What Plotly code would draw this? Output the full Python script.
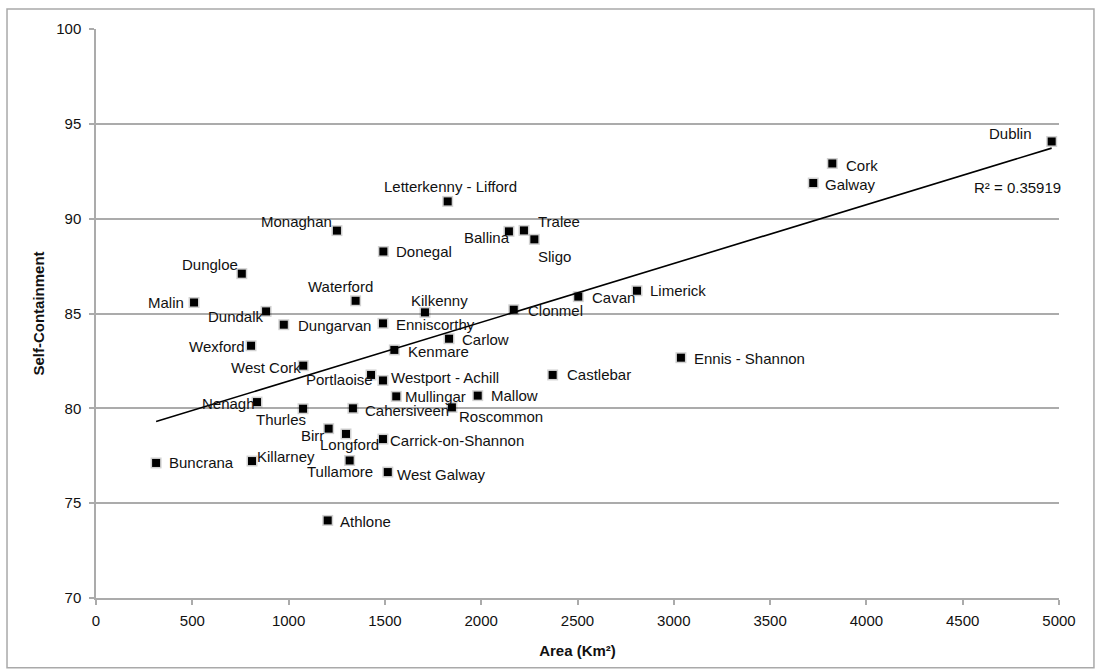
import numpy as np
import plotly.graph_objects as go

# Functional areas: land area (km²) against labour-market self-containment (%)
towns = [
    "Dublin", "Cork", "Galway", "Letterkenny - Lifford", "Tralee", "Ballina",
    "Sligo", "Monaghan", "Donegal", "Dungloe", "Waterford", "Malin", "Dundalk",
    "Kilkenny", "Clonmel", "Cavan", "Limerick", "Dungarvan", "Enniscorthy",
    "Wexford", "Kenmare", "Carlow", "West Cork", "Portlaoise", "Westport - Achill",
    "Castlebar", "Ennis - Shannon", "Mullingar", "Mallow", "Nenagh", "Thurles",
    "Cahersiveen", "Roscommon", "Birr", "Longford", "Carrick-on-Shannon",
    "Buncrana", "Killarney", "Tullamore", "West Galway", "Athlone",
]
area_km2 = [
    4962, 3823, 3724, 1826, 2222, 2144,
    2276, 1251, 1492, 757, 1348, 509, 883,
    1708, 2169, 2504, 2809, 975, 1490,
    805, 1549, 1833, 1076, 1428, 1490,
    2371, 3037, 1559, 1982, 836, 1075,
    1334, 1848, 1208, 1298, 1490,
    312, 810, 1317, 1515, 1203,
]
self_containment = [
    94.07, 92.91, 91.88, 90.91, 89.38, 89.33,
    88.91, 89.37, 88.27, 87.10, 85.67, 85.58, 85.11,
    85.06, 85.20, 85.89, 86.20, 84.41, 84.48,
    83.30, 83.08, 83.67, 82.25, 81.76, 81.47,
    81.76, 82.67, 80.63, 80.67, 80.33, 79.98,
    80.00, 80.05, 78.93, 78.65, 78.38,
    77.12, 77.22, 77.25, 76.64, 74.09,
]
r_squared_label = "R² = 0.35919"

x_ticks = [0, 500, 1000, 1500, 2000, 2500, 3000, 3500, 4000, 4500, 5000]
y_ticks = [70, 75, 80, 85, 90, 95, 100]

# Label offsets from each marker (pixels, right / down)
label_offset = {
    "Dublin": (-41, -8), "Cork": (30, 2), "Galway": (37, 1),
    "Letterkenny - Lifford": (3, -15), "Tralee": (35, -9), "Ballina": (-22, 6),
    "Sligo": (20, 17), "Monaghan": (-40, -9), "Donegal": (41, 0),
    "Dungloe": (-32, -9), "Waterford": (-15, -14), "Malin": (-28, 0),
    "Dundalk": (-30, 5), "Kilkenny": (15, -12), "Clonmel": (42, 1),
    "Cavan": (35, 1), "Limerick": (41, 0), "Dungarvan": (51, 1),
    "Enniscorthy": (53, 1), "Wexford": (-34, 1), "Kenmare": (44, 2),
    "Carlow": (36, 1), "West Cork": (-37, 2), "Portlaoise": (-32, 5),
    "Westport - Achill": (62, -3), "Castlebar": (46, 0), "Ennis - Shannon": (69, 1),
    "Mullingar": (39, 0), "Mallow": (37, 0), "Nenagh": (-29, 1),
    "Thurles": (-22, 11), "Cahersiveen": (54, 2), "Roscommon": (49, 9),
    "Birr": (-16, 7), "Longford": (4, 11), "Carrick-on-Shannon": (74, 1),
    "Buncrana": (45, 0), "Killarney": (34, -5), "Tullamore": (-10, 11),
    "West Galway": (54, 2), "Athlone": (38, 1),
}

FONT = "Liberation Sans, Arial, Helvetica, sans-serif"
GRID = "#ababab"

x = np.array(area_km2, dtype=float)
y = np.array(self_containment, dtype=float)
slope, intercept = np.polyfit(x, y, 1)
trend_x = np.array([x.min(), x.max()])
trend_y = slope * trend_x + intercept

fig = go.Figure()

# Linear trendline
fig.add_trace(go.Scatter(
    x=trend_x, y=trend_y, mode="lines",
    line=dict(color="black", width=1.6), hoverinfo="skip", showlegend=False,
))
# Soft halo under the markers
fig.add_trace(go.Scatter(
    x=x, y=y, mode="markers",
    marker=dict(symbol="square", size=11, color="rgba(0,0,0,0.18)", line=dict(width=0)),
    hoverinfo="skip", showlegend=False,
))
fig.add_trace(go.Scatter(
    x=x, y=y, mode="markers", text=towns,
    marker=dict(symbol="square", size=8, color="black", line=dict(width=0)),
    showlegend=False,
))

annotations = []
for name, ax_, ay_ in zip(towns, area_km2, self_containment):
    dx, dy = label_offset[name]
    annotations.append(dict(
        x=ax_, y=ay_, xref="x", yref="y", text=name, showarrow=False,
        xanchor="center", yanchor="middle", xshift=dx, yshift=-dy,
        font=dict(family=FONT, size=15, color="#111111"),
    ))
annotations.append(dict(
    x=0.9572, y=0.7206, xref="paper", yref="paper", text=r_squared_label,
    showarrow=False, xanchor="center", yanchor="middle",
    font=dict(family=FONT, size=15, color="#111111"),
))

fig.update_layout(
    width=1096, height=671,
    margin=dict(l=96, r=37, t=29, b=73),
    paper_bgcolor="white", plot_bgcolor="white",
    font=dict(family=FONT, size=15, color="#111111"),
    annotations=annotations,
    shapes=[dict(
        type="rect", xref="paper", yref="paper",
        x0=-0.0924, x1=1.0363, y0=-0.1225, y1=1.0351,
        line=dict(color="#a9a9a9", width=1.5), layer="below",
    )],
)
fig.update_xaxes(
    range=[0, 5000], tickvals=x_ticks, ticktext=[str(t) for t in x_ticks],
    showgrid=False, zeroline=False,
    showline=True, linecolor=GRID, linewidth=1.5,
    ticks="outside", ticklen=5, tickcolor=GRID, tickwidth=1.5,
    ticklabelstandoff=3,
    tickfont=dict(family=FONT, size=15, color="#111111"),
    title=dict(text="<b>Area (Km²)</b>", font=dict(family=FONT, size=15, color="#111111"), standoff=18),
)
fig.update_yaxes(
    range=[70, 100], tickvals=y_ticks, ticktext=[str(t) for t in y_ticks],
    showgrid=True, gridcolor=GRID, gridwidth=1.5, zeroline=False,
    showline=True, linecolor=GRID, linewidth=1.5,
    ticks="outside", ticklen=5, tickcolor=GRID, tickwidth=1.5,
    ticklabelstandoff=5,
    tickfont=dict(family=FONT, size=15, color="#111111"),
    title=dict(text="<b>Self-Containment</b>", font=dict(family=FONT, size=15, color="#111111"), standoff=8),
)

fig.write_html("out.html")
